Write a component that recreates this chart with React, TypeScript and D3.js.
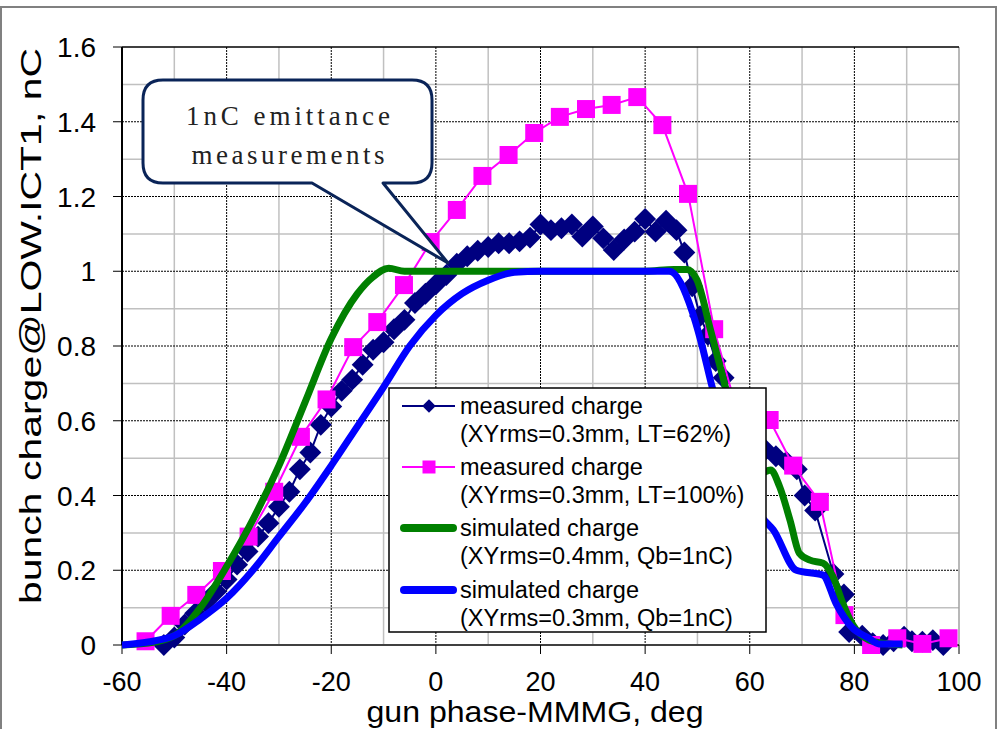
import React from 'react';
import * as d3 from 'd3';

// measured charge, LT=62% (navy diamonds)
const navyPhase = [-52, -50, -48, -46, -44, -42, -40, -38, -36, -34, -32, -30, -28, -26, -24, -22, -20, -18, -16, -14, -12, -10, -8, -6, -4, -2, 0, 2, 4, 6, 8, 10, 12, 14, 16, 18, 20, 22, 24, 26, 28, 30, 32, 34, 36, 38, 40, 42, 44, 46, 47.5, 49, 50.5, 52, 53.5, 55, 57, 59, 61, 63, 65, 67, 69, 70.5, 72.5, 76, 78, 79, 81.5, 83.5, 85.5, 87.5, 89.5, 91, 93, 95, 97];
const navyCharge = [0.0, 0.02, 0.055, 0.085, 0.115, 0.143, 0.175, 0.215, 0.25, 0.29, 0.326, 0.37, 0.41, 0.47, 0.515, 0.589, 0.638, 0.68, 0.71, 0.75, 0.79, 0.81, 0.845, 0.87, 0.915, 0.94, 0.965, 0.99, 1.02, 1.04, 1.055, 1.065, 1.075, 1.075, 1.08, 1.09, 1.125, 1.11, 1.115, 1.125, 1.093, 1.12, 1.088, 1.057, 1.085, 1.106, 1.14, 1.106, 1.135, 1.11, 1.05, 0.96, 0.88, 0.83, 0.76, 0.715, 0.65, 0.6, 0.56, 0.522, 0.505, 0.49, 0.47, 0.4, 0.36, 0.19, 0.135, 0.035, 0.025, 0.005, 0.0, 0.01, 0.022, 0.01, 0.009, 0.013, 0.0];

// measured charge, LT=100% (magenta squares)
const pinkPhase = [-55.5, -50.7, -45.8, -40.9, -35.8, -30.9, -25.8, -20.9, -15.8, -11.2, -6.1, -1, 4, 8.9, 13.9, 18.8, 23.7, 28.7, 33.6, 38.5, 43.3, 48.2, 53.2, 58.5, 63.8, 68.3, 73.4, 78.1, 83.2, 88.2, 93, 98];
const pinkCharge = [0.01, 0.078, 0.134, 0.198, 0.29, 0.41, 0.557, 0.657, 0.797, 0.864, 0.963, 1.078, 1.164, 1.255, 1.311, 1.37, 1.413, 1.434, 1.445, 1.466, 1.391, 1.207, 0.845, 0.58, 0.602, 0.48, 0.383, 0.08, 0.0, 0.018, 0.003, 0.018];

// simulated charge, XYrms=0.4mm (green)
const greenPhase = [-60, -55, -50, -45, -40, -35, -30, -25, -20, -15, -12, -9, -6, 0, 20, 40, 45.5, 48, 49.9, 52.5, 55, 57, 59, 61, 62.5, 64, 65.7, 67.7, 69.5, 71.5, 74, 75.9, 77.8, 79.7, 82.8, 85.4, 89.2];
const greenCharge = [0.0, 0.005, 0.025, 0.1, 0.21, 0.335, 0.48, 0.65, 0.82, 0.94, 0.985, 1.008, 1.0, 1.0, 1.0, 1.0, 1.005, 1.005, 0.977, 0.843, 0.709, 0.6, 0.5, 0.45, 0.46, 0.468, 0.424, 0.334, 0.245, 0.227, 0.219, 0.183, 0.111, 0.054, 0.013, 0.005, 0.0];

// simulated charge, XYrms=0.3mm (blue)
const bluePhase = [-60, -55, -50, -45, -40, -35, -30, -25, -20, -15, -10, -5, 0, 5, 10, 15, 20, 44.6, 49, 50.6, 52.8, 55, 58, 60.5, 62.3, 64.5, 68.9, 74, 76.5, 79.4, 82.8, 84.7, 89.2];
const blueCharge = [0.0, 0.008, 0.025, 0.07, 0.125, 0.2, 0.29, 0.38, 0.48, 0.585, 0.69, 0.8, 0.882, 0.94, 0.976, 0.997, 1.0, 1.0, 0.892, 0.816, 0.691, 0.58, 0.45, 0.39, 0.343, 0.308, 0.2, 0.187, 0.111, 0.049, 0.018, 0.003, 0.003];

const xTicks = [-60, -40, -20, 0, 20, 40, 60, 80, 100];
const yTicks = [0, 0.2, 0.4, 0.6, 0.8, 1, 1.2, 1.4, 1.6];

const legendLabels = [
  ['measured charge', '(XYrms=0.3mm, LT=62%)'],
  ['measured charge', '(XYrms=0.3mm, LT=100%)'],
  ['simulated charge', '(XYrms=0.4mm, Qb=1nC)'],
  ['simulated charge', '(XYrms=0.3mm, Qb=1nC)'],
];

const NAVY = '#000080';
const PINK = '#ff00ff';
const GREEN = '#008000';
const BLUE = '#0000ff';
const FONT = '"Liberation Sans", Arial, sans-serif';

const App = () => {
  const width = 998;
  const height = 729;
  const left = 122, right = 959, top = 47, bottom = 645;

  const x = d3.scaleLinear().domain([-60, 100]).range([left, right]);
  const y = d3.scaleLinear().domain([0, 1.6]).range([bottom, top]);

  const zip = (xs: number[], ys: number[]) => xs.map((v, i) => [v, ys[i]] as [number, number]);
  const navy = zip(navyPhase, navyCharge);
  const pink = zip(pinkPhase, pinkCharge);
  const green = zip(greenPhase, greenCharge);
  const blue = zip(bluePhase, blueCharge);

  const straight = d3.line<[number, number]>().x((d) => x(d[0])).y((d) => y(d[1]));
  const smooth = d3
    .line<[number, number]>()
    .x((d) => x(d[0]))
    .y((d) => y(d[1]))
    .curve(d3.curveMonotoneX);

  const diamond = d3.symbol().type(d3.symbolSquare).size(15.5 * 15.5)();
  const square = d3.symbol().type(d3.symbolSquare).size(18 * 18)();
  const diamondSmall = d3.symbol().type(d3.symbolSquare).size(9.5 * 9.5)();
  const squareSmall = d3.symbol().type(d3.symbolSquare).size(13 * 13)();

  const minorX = d3.range(-50, 100, 10).filter((v) => v % 20 !== 0);
  const minorY = d3.range(1, 16).filter((v) => v % 2 !== 0).map((v) => v / 10);
  const majorX = xTicks.filter((v) => v !== -60 && v !== 100);
  const majorY = yTicks.filter((v) => v !== 0 && v !== 1.6);

  // callout bubble
  const bx0 = 143, by0 = 80, bx1 = 432, by1 = 183, r = 20;
  const tipX = 448, tipY = 263;
  const bubble = [
    `M${bx0 + r},${by0}`,
    `H${bx1 - r}`,
    `Q${bx1},${by0} ${bx1},${by0 + r}`,
    `V${by1 - r}`,
    `Q${bx1},${by1} ${bx1 - r},${by1}`,
    `H383`,
    `L${tipX},${tipY}`,
    `L312,${by1}`,
    `H${bx0 + r}`,
    `Q${bx0},${by1} ${bx0},${by1 - r}`,
    `V${by0 + r}`,
    `Q${bx0},${by0} ${bx0 + r},${by0}`,
    'Z',
  ].join(' ');

  const legX = 389, legY = 388, legW = 377, legH = 244;
  const rowY = [406, 467, 528, 590];

  return (
    <svg width={width} height={height} style={{ display: 'block', position: 'absolute', left: 0, top: 0 }}>
      <rect x={0} y={0} width={width} height={height} fill="#fff" />
      <rect x={1} y={7} width={995} height={740} fill="#fff" stroke="#808080" strokeWidth={2} />

      {/* grid */}
      <g>
        {minorX.map((v) => (
          <line key={'mx' + v} x1={x(v)} x2={x(v)} y1={top} y2={bottom} stroke="#c0c0c0" strokeWidth={1.5} />
        ))}
        {minorY.map((v) => (
          <line key={'my' + v} x1={left} x2={right} y1={y(v)} y2={y(v)} stroke="#c0c0c0" strokeWidth={1.5} />
        ))}
        {majorX.map((v) => (
          <line key={'gx' + v} x1={x(v)} x2={x(v)} y1={top} y2={bottom} stroke="#000" strokeWidth={1} strokeDasharray="2,1" />
        ))}
        {majorY.map((v) => (
          <line key={'gy' + v} x1={left} x2={right} y1={y(v)} y2={y(v)} stroke="#000" strokeWidth={1} strokeDasharray="2,1" />
        ))}
        <line x1={right} x2={right} y1={top} y2={bottom} stroke="#a0a0a0" strokeWidth={1.5} />
        <line x1={left} x2={right} y1={top} y2={top} stroke="#000" strokeWidth={1.5} />
      </g>

      {/* axes */}
      <line x1={left} x2={right} y1={bottom} y2={bottom} stroke="#404040" strokeWidth={2} />
      <line x1={left} x2={left} y1={top} y2={bottom} stroke="#000" strokeWidth={2} />
      {xTicks.map((v) => (
        <g key={'xt' + v}>
          <line x1={x(v)} x2={x(v)} y1={bottom} y2={bottom + 9} stroke="#000" strokeWidth={1} />
          <text x={x(v)} y={bottom + 46} textAnchor="middle" fontFamily={FONT} fontSize={27}>
            {v}
          </text>
        </g>
      ))}
      {yTicks.map((v) => (
        <g key={'yt' + v}>
          <line x1={left - 9} x2={left} y1={y(v)} y2={y(v)} stroke="#000" strokeWidth={1} />
          <text x={96} y={y(v) + 10} textAnchor="end" fontFamily={FONT} fontSize={28}>
            {String(v)}
          </text>
        </g>
      ))}
      <text
        x={535}
        y={722}
        textAnchor="middle"
        fontFamily={FONT}
        fontSize={29}
        textLength={337}
        lengthAdjust="spacingAndGlyphs"
      >
        gun phase-MMMG, deg
      </text>
      <text
        transform={`translate(41,326) rotate(-90)`}
        textAnchor="middle"
        fontFamily={FONT}
        fontSize={30}
        textLength={556}
        lengthAdjust="spacingAndGlyphs"
      >
        bunch charge@LOW.ICT1, nC
      </text>

      {/* series */}
      <path d={straight(navy) || ''} fill="none" stroke={NAVY} strokeWidth={2} />
      {navy.map((d, i) => (
        <path key={'n' + i} d={diamond} fill={NAVY} transform={`translate(${x(d[0])},${y(d[1])}) rotate(45)`} />
      ))}
      <path d={straight(pink) || ''} fill="none" stroke={PINK} strokeWidth={2} />
      {pink.map((d, i) => (
        <path key={'p' + i} d={square} fill={PINK} transform={`translate(${x(d[0])},${y(d[1])})`} />
      ))}
      <path d={smooth(green) || ''} fill="none" stroke={GREEN} strokeWidth={7} strokeLinejoin="round" />
      <path d={smooth(blue) || ''} fill="none" stroke={BLUE} strokeWidth={7} strokeLinejoin="round" />

      {/* callout */}
      <path d={bubble} fill="#fff" stroke="#0a2458" strokeWidth={3} strokeLinejoin="round" />
      <text
        x={288}
        y={125}
        textAnchor="middle"
        fontFamily='"Liberation Serif", "DejaVu Serif", serif'
        fontSize={27}
        fill="#222"
        textLength={204}
        lengthAdjust="spacing"
      >
        1nC emittance
      </text>
      <text
        x={288}
        y={164}
        textAnchor="middle"
        fontFamily='"Liberation Serif", "DejaVu Serif", serif'
        fontSize={27}
        fill="#222"
        textLength={193}
        lengthAdjust="spacing"
      >
        measurements
      </text>

      {/* legend */}
      <rect x={legX} y={legY} width={legW} height={legH} fill="#fff" stroke="#000" strokeWidth={1.5} />
      <line x1={402} x2={455} y1={rowY[0]} y2={rowY[0]} stroke={NAVY} strokeWidth={2} />
      <path d={diamondSmall} fill={NAVY} transform={`translate(429,${rowY[0]}) rotate(45)`} />
      <line x1={402} x2={455} y1={rowY[1]} y2={rowY[1]} stroke={PINK} strokeWidth={2} />
      <path d={squareSmall} fill={PINK} transform={`translate(429,${rowY[1]})`} />
      <line x1={404} x2={453} y1={rowY[2]} y2={rowY[2]} stroke={GREEN} strokeWidth={8} strokeLinecap="round" />
      <line x1={404} x2={453} y1={rowY[3]} y2={rowY[3]} stroke={BLUE} strokeWidth={8} strokeLinecap="round" />
      {legendLabels.map((lines, i) => (
        <g key={'lg' + i}>
          <text x={460} y={rowY[i] + 8} fontFamily={FONT} fontSize={23.5}>
            {lines[0]}
          </text>
          <text x={460} y={rowY[i] + 36} fontFamily={FONT} fontSize={23.5}>
            {lines[1]}
          </text>
        </g>
      ))}
    </svg>
  );
};

export default App;
